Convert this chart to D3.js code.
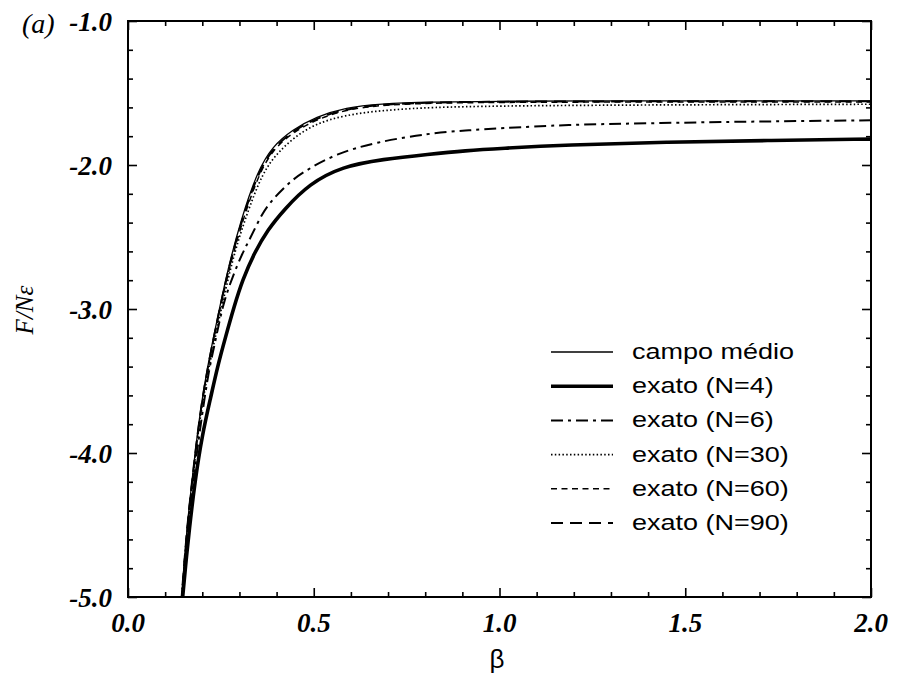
<!DOCTYPE html>
<html>
<head>
<meta charset="utf-8">
<script src="https://cdn.jsdelivr.net/npm/d3@7"></script>
<style>
  html, body { margin: 0; padding: 0; background: #fff; }
  svg { display: block; }
</style>
</head>
<body>
<svg id="chart" width="897" height="677"></svg>
<script>
// Free energy per site versus inverse temperature
const xTickLabels = ["0.0", "0.5", "1.0", "1.5", "2.0"];
const yTickLabels = ["-1.0", "-2.0", "-3.0", "-4.0", "-5.0"];
const xMajor = [0, 0.5, 1.0, 1.5, 2.0];
const yMajor = [-1, -2, -3, -4, -5];

// mean field
const betaCampo = [0.143, 0.155, 0.165, 0.18, 0.196, 0.214, 0.241, 0.268, 0.304, 0.349, 0.389, 0.443, 0.506, 0.587, 0.677, 0.81, 1.0, 1.25, 1.5, 1.75, 2.0];
const fCampo    = [-5.05, -4.63, -4.36, -4.01, -3.68, -3.40, -3.06, -2.73, -2.38, -2.04, -1.87, -1.755, -1.665, -1.60, -1.575, -1.562, -1.557, -1.555, -1.555, -1.555, -1.555];

// exact, N=4
const betaN4 = [0.145, 0.155, 0.165, 0.18, 0.2, 0.223, 0.241, 0.263, 0.286, 0.308, 0.34, 0.376, 0.42, 0.488, 0.577, 0.685, 0.81, 0.91, 1.0, 1.18, 1.45, 1.72, 2.0];
const fN4    = [-5.06, -4.78, -4.53, -4.20, -3.87, -3.61, -3.40, -3.19, -2.98, -2.80, -2.61, -2.45, -2.31, -2.13, -2.01, -1.96, -1.925, -1.90, -1.885, -1.86, -1.84, -1.83, -1.82];

// exact, N=6
const betaN6 = [0.144, 0.155, 0.165, 0.18, 0.2, 0.218, 0.232, 0.245, 0.259, 0.281, 0.308, 0.331, 0.362, 0.389, 0.43, 0.47, 0.56, 0.67, 0.81, 0.91, 1.0, 1.18, 1.4, 1.63, 1.8, 2.0];
const fN6    = [-5.06, -4.70, -4.44, -4.10, -3.72, -3.42, -3.26, -3.10, -2.94, -2.78, -2.61, -2.50, -2.33, -2.24, -2.13, -2.05, -1.92, -1.84, -1.78, -1.76, -1.745, -1.72, -1.71, -1.70, -1.695, -1.69];

// exact, N=30
const betaN30 = [0.143, 0.155, 0.165, 0.18, 0.196, 0.214, 0.241, 0.28, 0.317, 0.362, 0.407, 0.47, 0.54, 0.63, 0.72, 0.81, 1.0, 1.25, 1.5, 1.75, 2.0];
const fN30    = [-5.05, -4.66, -4.39, -4.04, -3.72, -3.45, -3.12, -2.66, -2.36, -2.05, -1.90, -1.76, -1.68, -1.635, -1.615, -1.60, -1.59, -1.585, -1.582, -1.58, -1.578];

// exact, N=60
const betaN60 = [0.143, 0.155, 0.165, 0.18, 0.196, 0.214, 0.241, 0.268, 0.304, 0.349, 0.389, 0.443, 0.506, 0.587, 0.677, 0.81, 1.0, 1.25, 1.5, 1.75, 2.0];
const fN60    = [-5.05, -4.645, -4.375, -4.03, -3.70, -3.42, -3.08, -2.76, -2.42, -2.08, -1.895, -1.775, -1.685, -1.615, -1.585, -1.57, -1.565, -1.563, -1.562, -1.562, -1.562];

// exact, N=90
const betaN90 = [0.143, 0.155, 0.165, 0.18, 0.196, 0.214, 0.241, 0.268, 0.304, 0.349, 0.389, 0.443, 0.506, 0.587, 0.677, 0.81, 1.0, 1.25, 1.5, 1.75, 2.0];
const fN90    = [-5.05, -4.64, -4.37, -4.02, -3.69, -3.41, -3.07, -2.745, -2.40, -2.06, -1.885, -1.765, -1.675, -1.61, -1.58, -1.565, -1.56, -1.558, -1.558, -1.558, -1.558];

const seriesNames = ["campo médio", "exato (N=4)", "exato (N=6)", "exato (N=30)", "exato (N=60)", "exato (N=90)"];

const series = [
  { name: seriesNames[0], b: betaCampo, f: fCampo, width: 1.3, dash: null },
  { name: seriesNames[1], b: betaN4,    f: fN4,    width: 3.6, dash: null },
  { name: seriesNames[2], b: betaN6,    f: fN6,    width: 2.0, dash: "12,5,3,5" },
  { name: seriesNames[3], b: betaN30,   f: fN30,   width: 1.7, dash: "1.5,2.3" },
  { name: seriesNames[4], b: betaN60,   f: fN60,   width: 1.5, dash: "6,4.5" },
  { name: seriesNames[5], b: betaN90,   f: fN90,   width: 2.0, dash: "12,7" }
];

const svg = d3.select("#chart");
const plotLeft = 128, plotRight = 871, plotTop = 21, plotBottom = 597;

const x = d3.scaleLinear().domain([0, 2]).range([plotLeft, plotRight]);
const y = d3.scaleLinear().domain([-1, -5]).range([plotTop, plotBottom]);

const serif = "'Liberation Serif', 'Times New Roman', serif";
const sans = "'Liberation Sans', Arial, sans-serif";

// clip to the plotting frame
svg.append("defs").append("clipPath").attr("id", "plotClip")
  .append("rect").attr("x", plotLeft).attr("y", plotTop)
  .attr("width", plotRight - plotLeft).attr("height", plotBottom - plotTop);

// curves
const line = d3.line()
  .x(d => x(d[0]))
  .y(d => y(d[1]))
  .curve(d3.curveBasis);

const curves = svg.append("g").attr("clip-path", "url(#plotClip)");
series.forEach(s => {
  const pts = s.b.map((b, i) => [b, s.f[i]]);
  curves.append("path")
    .attr("d", line(pts))
    .attr("fill", "none")
    .attr("stroke", "#000")
    .attr("stroke-width", s.width)
    .attr("stroke-dasharray", s.dash)
    .attr("stroke-linejoin", "round");
});

// axes with inward ticks on all four sides
const xMinor = d3.range(0, 21).map(i => i / 10).filter(v => !xMajor.some(m => Math.abs(m - v) < 1e-9));
const yMinor = d3.range(0, 21).map(i => -1 - i / 5).filter(v => !yMajor.some(m => Math.abs(m - v) < 1e-9));

function tickAxis(gen, scale, values, size, transform) {
  const g = svg.append("g").attr("transform", transform)
    .call(gen(scale).tickValues(values).tickSize(size).tickFormat(""));
  g.select(".domain").remove();
  g.selectAll(".tick line").attr("stroke", "#000").attr("stroke-width", 1.6);
  return g;
}

tickAxis(d3.axisBottom, x, xMajor, -9, `translate(0,${plotBottom})`);
tickAxis(d3.axisBottom, x, xMinor, -5, `translate(0,${plotBottom})`);
tickAxis(d3.axisTop, x, xMajor, -9, `translate(0,${plotTop})`);
tickAxis(d3.axisTop, x, xMinor, -5, `translate(0,${plotTop})`);
tickAxis(d3.axisLeft, y, yMajor, -9, `translate(${plotLeft},0)`);
tickAxis(d3.axisLeft, y, yMinor, -5, `translate(${plotLeft},0)`);
tickAxis(d3.axisRight, y, yMajor, -9, `translate(${plotRight},0)`);
tickAxis(d3.axisRight, y, yMinor, -5, `translate(${plotRight},0)`);

// frame
svg.append("rect")
  .attr("x", plotLeft).attr("y", plotTop)
  .attr("width", plotRight - plotLeft).attr("height", plotBottom - plotTop)
  .attr("fill", "none").attr("stroke", "#000").attr("stroke-width", 2);

// tick labels
svg.append("g").selectAll("text").data(xMajor).join("text")
  .attr("x", d => x(d))
  .attr("y", 632)
  .attr("text-anchor", "middle")
  .attr("font-family", serif)
  .attr("font-style", "italic")
  .attr("font-weight", "bold")
  .attr("font-size", 27)
  .text((d, i) => xTickLabels[i]);

svg.append("g").selectAll("text").data(yMajor).join("text")
  .attr("x", 112)
  .attr("y", d => y(d) + 10)
  .attr("text-anchor", "end")
  .attr("font-family", serif)
  .attr("font-style", "italic")
  .attr("font-weight", "bold")
  .attr("font-size", 27)
  .text((d, i) => yTickLabels[i]);

// panel tag
svg.append("text")
  .attr("x", 22).attr("y", 33)
  .attr("font-family", serif)
  .attr("font-style", "italic")
  .attr("font-size", 28)
  .text("(a)");

// axis titles
svg.append("text")
  .attr("transform", "translate(33,310) rotate(-90)")
  .attr("text-anchor", "middle")
  .attr("font-family", serif)
  .attr("font-style", "italic")
  .attr("font-size", 25)
  .text("F/Nε");

svg.append("text")
  .attr("x", 497).attr("y", 668)
  .attr("text-anchor", "middle")
  .attr("font-family", sans)
  .attr("font-size", 26)
  .text("β");

// legend
const legend = svg.append("g");
const legY = d3.scaleLinear().domain([0, 5]).range([352, 523]);
series.forEach((s, i) => {
  const yy = legY(i);
  legend.append("line")
    .attr("x1", 551).attr("x2", 613)
    .attr("y1", yy).attr("y2", yy)
    .attr("stroke", "#000")
    .attr("stroke-width", s.width)
    .attr("stroke-dasharray", s.dash);
  legend.append("text")
    .attr("transform", `translate(632,${yy + 7}) scale(1.2,1)`)
    .attr("font-family", sans)
    .attr("font-size", 22.5)
    .text(s.name);
});
</script>
</body>
</html>
